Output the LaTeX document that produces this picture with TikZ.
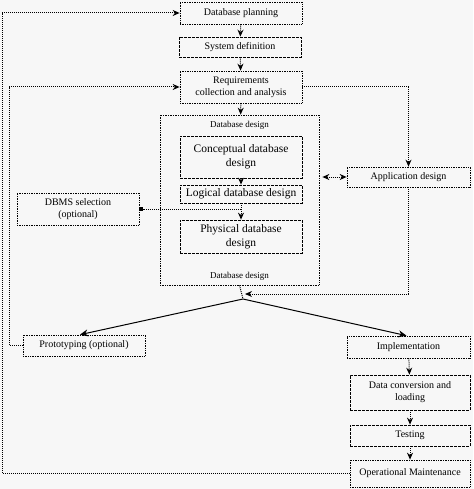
\documentclass[tikz,border=0pt]{standalone}
\usepackage{fontspec}
\setmainfont{Liberation Serif}
\usetikzlibrary{arrows.meta}
\begin{document}
\begin{tikzpicture}[x=1pt,y=-1pt,
  box/.style={draw, densely dotted, line width=0.7pt, inner sep=1pt, align=center, font=\fontsize{10}{12}\selectfont},
  dbox/.style={draw, dash pattern=on 3pt off 1pt, line width=0.7pt, inner sep=1pt, align=center, font=\fontsize{10}{12}\selectfont},
  inbox/.style={draw, dash pattern=on 3pt off 1pt, line width=0.7pt, inner sep=1pt, align=center, font=\fontsize{11.5}{13.5}\selectfont},
  conn/.style={densely dotted, line width=1pt, -{Stealth[length=7pt,width=6pt]}},
  link/.style={densely dotted, line width=1pt},
  diag/.style={line width=1pt, -{Stealth[length=8pt,width=7pt]}}]
\fill[white!97!black] (0,0) rectangle (473,489);
\useasboundingbox (0,0) rectangle (473,489);

\node[box, minimum width=159pt, minimum height=170pt] (dbd) at (239.5,200) {};
\node[font=\fontsize{9}{11}\selectfont, anchor=north] (dbdt) at (dbd.north) [yshift=-3pt] {Database design};
\node[font=\fontsize{9}{11}\selectfont, anchor=south] (dbdb) at (dbd.south) [yshift=1pt] {Database design};

\node[box, minimum width=122pt, minimum height=22pt] (plan) at (241,13) {Database planning};
\node[dbox, minimum width=122pt, minimum height=20pt] (sys) at (240,47) {System definition};
\node[box, minimum width=122pt, minimum height=32pt] (req) at (241,87) {Requirements\\ collection and analysis};
\node[inbox, minimum width=122pt, minimum height=42pt] (con) at (241,157) {Conceptual database\\ design};
\node[inbox, minimum width=122pt, minimum height=18pt] (log) at (241,194) {Logical database design};
\node[inbox, minimum width=122pt, minimum height=33pt] (phy) at (241,236.5) {Physical database\\ design};
\node[box, minimum width=123pt, minimum height=20pt] (app) at (408.5,177) {Application design};
\node[box, minimum width=122pt, minimum height=32pt] (dbms) at (78,209) {DBMS selection\\ (optional)};
\node[box, minimum width=122pt, minimum height=21pt] (proto) at (84,345.5) {Prototyping (optional)};
\node[box, minimum width=123pt, minimum height=22pt] (impl) at (408.5,347) {Implementation};
\node[dbox, minimum width=120pt, minimum height=35pt] (conv) at (410,392.5) {Data conversion and\\ loading};
\node[dbox, minimum width=120pt, minimum height=21pt] (test) at (410,435.5) {Testing};
\node[box, minimum width=120pt, minimum height=27pt] (ops) at (410,473.5) {Operational Maintenance};

\draw[conn] (plan) -- (sys);
\draw[conn] (sys) -- (req);
\draw[conn] (req) -- (dbd);
\draw[conn] (con) -- (log);
\draw[conn] (log) -- (phy);
\coordinate (dm) at (241,209);
\draw[link, -{Square[length=4pt,width=4pt]}] (dm) -- (dbms.east);
\draw[link, {Stealth[length=7pt,width=6pt]}-{Stealth[length=7pt,width=6pt]}] ([xshift=3pt]dbd.east |- app.west) -- (app.west);
\draw[conn] (req.east) -| (app.north);
\coordinate (apex) at (243,299);
\coordinate (tip) at (245,294);
\draw[link] (dbd.south) -- (apex);
\draw[conn] (app.south) |- (tip);
\draw[diag] (apex) -- ([xshift=-4pt]proto.north);
\draw[diag] (apex) -- ([xshift=-2pt]impl.north);
\draw[conn] (impl) -- (conv);
\draw[conn] (conv) -- (test);
\draw[conn] (test) -- (ops);
\draw[conn] (ops.west) -- (2,473.5) |- (plan.west);
\draw[conn] (proto.west) -- (9,345.5) |- (req.west);
\end{tikzpicture}
\end{document}
